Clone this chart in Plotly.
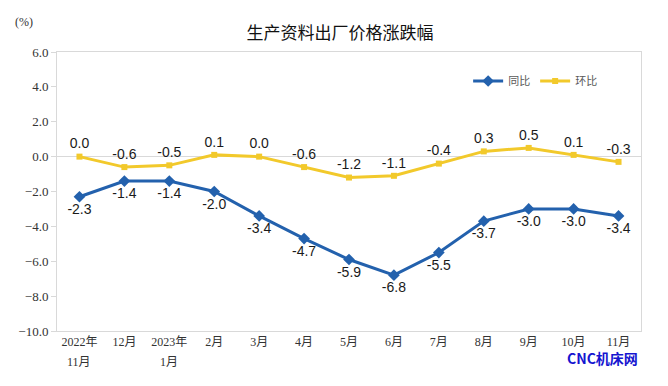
import plotly.graph_objects as go

months = ["2022年", "12月", "2023年", "2月", "3月", "4月", "5月",
          "6月", "7月", "8月", "9月", "10月", "11月"]
month_sub = {"2022年": "11月", "2023年": "1月"}
yoy = [-2.3, -1.4, -1.4, -2.0, -3.4, -4.7, -5.9, -6.8, -5.5, -3.7, -3.0, -3.0, -3.4]
mom = [0.0, -0.6, -0.5, 0.1, 0.0, -0.6, -1.2, -1.1, -0.4, 0.3, 0.5, 0.1, -0.3]
y_ticks = [-10, -8, -6, -4, -2, 0, 2, 4, 6]

blue = "#2361ad"
yellow = "#f2c92b"
label_font = dict(family="Liberation Sans, Arial, sans-serif", size=14, color="#1a1a1a")
tick_font = dict(family="Liberation Serif, Noto Sans CJK SC", size=12, color="#333")

fig = go.Figure()
fig.add_trace(go.Scatter(
    x=months, y=yoy, name="同比", mode="lines+markers+text",
    line=dict(color=blue, width=3),
    marker=dict(symbol="diamond", size=9, color=blue),
    text=[f"{v:.1f}" for v in yoy], textposition="bottom center",
    textfont=label_font, cliponaxis=False,
))
fig.add_trace(go.Scatter(
    x=months, y=mom, name="环比", mode="lines+markers+text",
    line=dict(color=yellow, width=3),
    marker=dict(symbol="square", size=6, color=yellow),
    text=[f"{v:.1f}" for v in mom], textposition="top center",
    textfont=label_font, cliponaxis=False,
))

annotations = [
    dict(text="(%)", xref="paper", yref="paper", x=-0.0565, y=1.1075, xanchor="center",
         yanchor="middle", showarrow=False,
         font=dict(family="Liberation Serif, serif", size=12, color="#333")),
    dict(text="<b>CNC机床网</b>", xref="paper", yref="paper", x=0.998, y=-0.097,
         xanchor="right", yanchor="middle", showarrow=False,
         font=dict(family="Noto Sans CJK SC", size=14, color="#1515d0")),
]
for top, sub in month_sub.items():
    annotations.append(dict(text=sub, xref="x", yref="paper", x=top, y=-0.111,
                            xanchor="center", yanchor="middle", showarrow=False,
                            font=tick_font))

fig.update_layout(
    width=660, height=378,
    margin=dict(l=49, r=27, t=44, b=55, autoexpand=False),
    paper_bgcolor="white", plot_bgcolor="white",
    showlegend=True,
    legend=dict(orientation="h", x=0.704, y=0.896, xanchor="left", yanchor="middle",
                font=dict(family="Noto Sans CJK SC", size=11, color="#595959"),
                bgcolor="rgba(0,0,0,0)", entrywidth=22, entrywidthmode="pixels",
                tracegroupgap=0),
    title=dict(text="生产资料出厂价格涨跌幅", x=0.503, xanchor="center", y=0.934, yanchor="middle",
               font=dict(family="Noto Sans CJK SC", size=17, color="#111")),
    annotations=annotations,
)
fig.update_xaxes(
    type="category", showgrid=False, showline=True, linecolor="#d9d9d9", linewidth=1,
    mirror=True, ticks="", range=[-0.5, 12.5], tickfont=tick_font,
)
fig.update_yaxes(
    range=[-10, 6], tickvals=y_ticks, tickformat=".1f", showgrid=False,
    showline=True, linecolor="#d9d9d9", linewidth=1, mirror=True,
    ticks="outside", ticklen=5, tickcolor="#d9d9d9",
    zeroline=True, zerolinecolor="#d9d9d9", zerolinewidth=1,
    tickfont=dict(family="Liberation Serif, serif", size=13, color="#333"),
)

fig.write_html("out.html")
